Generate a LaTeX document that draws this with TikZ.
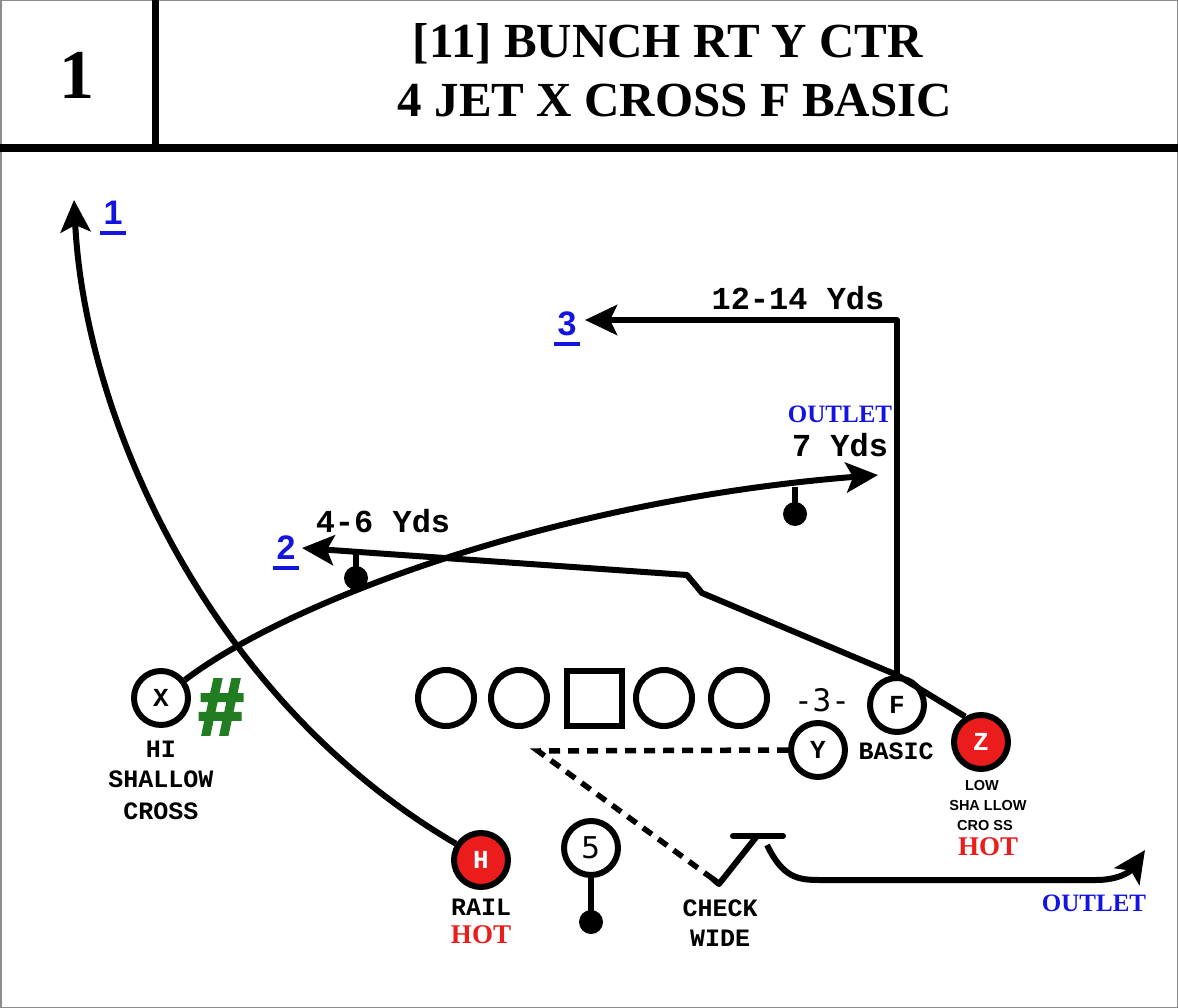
\documentclass[tikz,border=0pt]{standalone}
\usepackage{fontspec}
\setmainfont{Liberation Serif}
\newfontfamily\monofnt{Liberation Mono}
\newfontfamily\sansfnt{Liberation Sans}
\newfontfamily\hashfnt[FakeBold=4]{Liberation Sans}
\newfontfamily\dejamono{DejaVu Sans Mono}
\newfontfamily\dejasans{DejaVu Sans}
\usetikzlibrary{arrows.meta}
\definecolor{hotred}{RGB}{235,28,28}
\definecolor{outblue}{RGB}{20,20,225}
\definecolor{hashgreen}{RGB}{34,125,34}
\begin{document}
\begin{tikzpicture}[x=1pt,y=-1pt,
  route/.style={line width=6pt,line join=round},
  rarrow/.style={route,-{Stealth[length=32pt,width=30pt,inset=7pt]}},
  dashroute/.style={line width=5.5pt,dash pattern=on 11pt off 8pt},
  player/.style={circle,draw,line width=6pt,minimum size=54pt,inner sep=0pt,fill=white,
    font=\monofnt\bfseries\fontsize{26}{26}\selectfont},
  hotplayer/.style={player,fill=hotred,text=white},
  lineman/.style={circle,draw,line width=6pt,minimum size=56pt,inner sep=0pt},
  center/.style={rectangle,draw,line width=6pt,minimum size=55pt,inner sep=0pt},
  lbl/.style={font=\monofnt\bfseries\fontsize{25}{25}\selectfont,inner sep=0pt},
  yds/.style={font=\monofnt\bfseries\fontsize{32}{32}\selectfont,inner sep=0pt},
  small/.style={font=\sansfnt\bfseries\fontsize{14.5}{14.5}\selectfont,inner sep=0pt},
  hot/.style={font=\bfseries\fontsize{27}{27}\selectfont,text=hotred,inner sep=0pt},
  outlet/.style={font=\bfseries\fontsize{25}{25}\selectfont,text=outblue,inner sep=0pt},
  num/.style={font=\sansfnt\bfseries\fontsize{34}{34}\selectfont,text=outblue,inner sep=0pt},
  uline/.style={outblue,line width=4pt},
  dot/.style={circle,fill=black,minimum size=24pt,inner sep=0pt},
]
\useasboundingbox (0,0) rectangle (1178,1008);
\fill[white] (0,0) rectangle (1178,1008);
\draw[black!45,line width=1.5pt] (0.75,0.75) rectangle (1177.25,1007.25);

% header
\draw[line width=7pt] (155,0) -- (155,148);
\draw[line width=8pt] (0,148) -- (1178,148);
\node[font=\bfseries\fontsize{70}{70}\selectfont] (pnum) at (77,75) {1};
\node[font=\bfseries\fontsize{49}{49}\selectfont] (t1) at (668,44) {[11] BUNCH RT Y CTR};
\node[font=\bfseries\fontsize{49}{49}\selectfont] (t2) at (675,101) {4 JET X CROSS F BASIC};

% offensive line
\node[lineman] (lt) at (446,698) {};
\node[lineman] (lg) at (519,698) {};
\node[center] (c) at (594,698) {};
\node[lineman] (rg) at (664,698) {};
\node[lineman] (rt) at (739,698) {};
\node[font=\dejamono\fontsize{31}{31}\selectfont,inner sep=0pt] (three) at (822,700) {-3-};

% players
\node[player] (X) at (161,698) {X};
\node[player] (F) at (897,705) {F};
\node[player] (Y) at (818,750) {Y};
\node[hotplayer] (Z) at (981,742) {Z};
\node[hotplayer] (H) at (481,860) {H};
\node[player,font=\dejasans\fontsize{30}{30}\selectfont] (Q) at (591,848) {5};

\node[font=\hashfnt\bfseries\fontsize{80}{80}\selectfont,text=hashgreen,inner sep=0pt] (hash) at (221,707) {\#};

% labels
\node[lbl] (hi) at (161,749) {HI};
\node[lbl] (hi2) at (161,779) {SHALLOW};
\node[lbl] (hi3) at (161,811) {CROSS};
\node[lbl] (basic) at (896,751) {BASIC};
\node[lbl] (rail) at (481,907) {RAIL};
\node[hot] (hothf) at (481,935) {HOT};
\node[lbl] (check) at (720,908) {CHECK};
\node[lbl] (wide) at (720,938) {WIDE};
\node[small] (low) at (982,786) {LOW};
\node[small] (low2) at (988,806) {SHA LLOW};
\node[small] (low3) at (985,826) {CRO SS};
\node[hot] (hotz) at (988,847) {HOT};
\node[outlet] (out1) at (1094,903) {OUTLET};
\node[outlet] (out2) at (840,414) {OUTLET};
\node[yds] (y7) at (840,445) {7 Yds};
\node[yds] (y12) at (798,298) {12-14 Yds};
\node[yds] (y46) at (383,521) {4-6 Yds};

% route numbers
\node[num] (n1) at (113,213) {1};
\node[num] (n2) at (286,548) {2};
\node[num] (n3) at (567,324) {3};
\draw[uline] ([yshift=-8pt,xshift=-3pt]n1.south west) -- ([yshift=-8pt,xshift=3pt]n1.south east);
\draw[uline] ([yshift=-8pt,xshift=-3pt]n2.south west) -- ([yshift=-8pt,xshift=3pt]n2.south east);
\draw[uline] ([yshift=-8pt,xshift=-3pt]n3.south west) -- ([yshift=-8pt,xshift=3pt]n3.south east);

% coordinates
\coordinate (htip) at (74,200);
\coordinate (xtip) at (878,475);
\coordinate (ztip) at (302,548);
\coordinate (zk1) at (702,593);
\coordinate (zk2) at (687,575);
\coordinate (fcorner) at (897,320);
\coordinate (ftip) at (585,320);
\coordinate (ycorner) at (538,751);
\coordinate (yend) at (713,879);
\coordinate (chk) at (719,884);
\coordinate (chktop) at (757,836);
\coordinate (barl) at (733,836);
\coordinate (barr) at (783,836);
\coordinate (ostart) at (767,845);
\coordinate (ob) at (820,880);
\coordinate (oe) at (1096,880);
\coordinate (otip) at (1145,850);

% H rail route
\draw[rarrow] (H.147) .. controls (210,700) and (85,420) .. (htip);
% X cross route
\draw[rarrow] (X.37) .. controls (290,600) and (560,500) .. (xtip);
% Z low shallow cross
\draw[rarrow] (Z.122) -- (F.north) -- (zk1) -- (zk2) -- (ztip);
% F basic
\draw[rarrow] (F.north) -- (fcorner) -- (ftip);
% Y check wide
\draw[dashroute] (Y.west) -- (ycorner) -- (yend);
\draw[route,line cap=round] (yend) -- (chk) -- (chktop);
\draw[route,line cap=round] (barl) -- (barr);
\draw[rarrow] (ostart) .. controls (783,878) and (798,880) .. (ob) -- (oe) .. controls (1118,880) and (1130,872) .. (otip);

% stems and dots
\node[dot] (d1) at (356,578) {};
\draw[route] (356,552) -- (d1.center);
\node[dot] (d2) at (795,514) {};
\draw[route] (795,487) -- (d2.center);
\node[dot] (d3) at (591,922) {};
\draw[route] (Q.south) -- (d3.center);
\end{tikzpicture}
\end{document}
